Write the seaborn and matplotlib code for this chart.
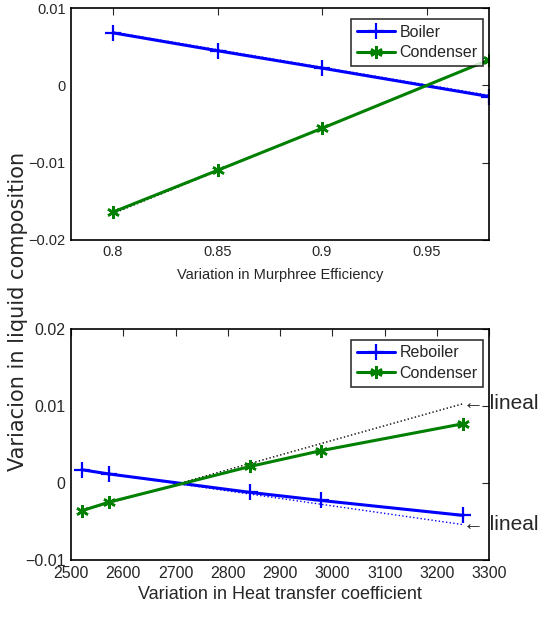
import numpy as np
import pandas as pd
import matplotlib
matplotlib.use('Agg')
import matplotlib.pyplot as plt
import seaborn as sns

# Data
eff = [0.8, 0.85, 0.9, 0.98]
boiler = [0.0068, 0.00448, 0.00223, -0.00145]
condenser_eff = [-0.0164, -0.0110, -0.00556, 0.00331]
lineal_boiler_eff = [0.0069, -0.0013]
lineal_cond_eff = [-0.0166, 0.0033]

htc = [2520, 2573, 2843, 2978, 3250]
reboiler = [0.00173, 0.00117, -0.00122, -0.00226, -0.0042]
condenser_htc = [-0.0036, -0.00247, 0.00216, 0.0042, 0.0077]
lineal_reb_htc = [0.0017, -0.0054]
lineal_cond_htc = [-0.0036, 0.0103]

sns.set_style('white')
plt.rcParams['font.family'] = ['Liberation Sans', 'DejaVu Sans']

blue = (0, 0, 1)
green = (0, 0.5, 0)
ast = (6, 2, 0)

fig = plt.figure(figsize=(5.56, 6.23), dpi=100)
ax1 = fig.add_axes([0.128, 0.615, 0.752, 0.372])
ax2 = fig.add_axes([0.128, 0.101, 0.752, 0.371])

# top panel
df1 = pd.DataFrame({'x': eff, 'Boiler': boiler, 'Condenser': condenser_eff})
ax1.plot([eff[0], eff[-1]], lineal_boiler_eff, ':', color=blue, lw=1)
ax1.plot([eff[0], eff[-1]], lineal_cond_eff, ':', color='black', lw=1)
sns.lineplot(data=df1, x='x', y='Boiler', ax=ax1, color=blue, lw=2.2,
             marker='+', markersize=11, mew=1.6, mec=blue, label='Boiler')
sns.lineplot(data=df1, x='x', y='Condenser', ax=ax1, color=green, lw=2.2,
             marker=ast, markersize=9, mew=1.8, mec=green, label='Condenser')
ax1.set_xlim(0.78, 0.98)
ax1.set_ylim(-0.02, 0.01)
ax1.set_xticks([0.8, 0.85, 0.9, 0.95])
ax1.set_xticklabels(['0.8', '0.85', '0.9', '0.95'])
ax1.set_yticks([-0.02, -0.01, 0, 0.01])
ax1.set_yticklabels(['\u22120.02', '\u22120.01', '0', '0.01'])
ax1.set_xlabel('Variation in Murphree Efficiency', fontsize=10.5, labelpad=6)
ax1.set_ylabel('')

# bottom panel
df2 = pd.DataFrame({'x': htc, 'Reboiler': reboiler, 'Condenser': condenser_htc})
ax2.plot([htc[0], htc[-1]], lineal_reb_htc, ':', color=blue, lw=1)
ax2.plot([htc[0], htc[-1]], lineal_cond_htc, ':', color='black', lw=1)
sns.lineplot(data=df2, x='x', y='Reboiler', ax=ax2, color=blue, lw=2.2,
             marker='+', markersize=11, mew=1.6, mec=blue, label='Reboiler')
sns.lineplot(data=df2, x='x', y='Condenser', ax=ax2, color=green, lw=2.2,
             marker=ast, markersize=9, mew=1.8, mec=green, label='Condenser')
ax2.set_xlim(2500, 3300)
ax2.set_ylim(-0.01, 0.02)
ax2.set_xticks(range(2500, 3301, 100))
ax2.set_yticks([-0.01, 0, 0.01, 0.02])
ax2.set_yticklabels(['\u22120.01', '0', '0.01', '0.02'])
ax2.set_xlabel('Variation in Heat transfer coefficient', fontsize=13, labelpad=4)
ax2.set_ylabel('')
ax2.annotate('\u2190 lineal', xy=(htc[-1], lineal_cond_htc[1]), fontsize=15,
             va='center', ha='left', annotation_clip=False)
ax2.annotate('\u2190 lineal', xy=(htc[-1], lineal_reb_htc[1]), fontsize=15,
             va='center', ha='left', annotation_clip=False)

for ax, fs in [(ax1, 10.5), (ax2, 11.5)]:
    for s in ax.spines.values():
        s.set_visible(True)
        s.set_color('black')
        s.set_linewidth(1.2)
    ax.tick_params(direction='in', top=True, right=True, length=5,
                   labelsize=fs, width=0.8, pad=4)
    leg = ax.legend(loc='upper right', fontsize=11.5, frameon=True, fancybox=False,
                    edgecolor='black', handlelength=2.4, borderpad=0.35,
                    labelspacing=0.35, handletextpad=0.3, borderaxespad=0,
                    bbox_to_anchor=(0.986, 0.953))
    leg.get_frame().set_linewidth(1.2)

fig.text(0.033, 0.5, 'Variacion in liquid composition', rotation=90,
         va='center', ha='center', fontsize=15, family='DejaVu Sans')

fig.savefig('out.png', dpi=100)
